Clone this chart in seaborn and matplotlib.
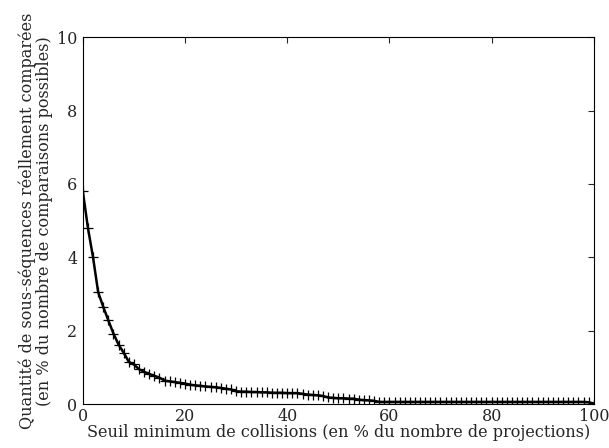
import numpy as np
import pandas as pd
import matplotlib
matplotlib.use('Agg')
import matplotlib.pyplot as plt
import seaborn as sns

#-- Data:

seuil = list(range(0, 101))
quantite = [
    5.80, 4.80, 4.00, 3.05, 2.65, 2.28, 1.92, 1.62, 1.40, 1.15,
    1.08, 0.95, 0.88, 0.82, 0.77, 0.72, 0.64, 0.62, 0.60, 0.58,
    0.56, 0.53, 0.51, 0.50, 0.48, 0.47, 0.46, 0.44, 0.42, 0.40,
    0.35, 0.34, 0.34, 0.33, 0.33, 0.32, 0.32, 0.31, 0.31, 0.31,
    0.30, 0.30, 0.30, 0.28, 0.26, 0.25, 0.24, 0.22, 0.18, 0.17,
    0.16, 0.16, 0.15, 0.15, 0.12, 0.11, 0.10, 0.09, 0.06, 0.06,
    0.06, 0.06, 0.06, 0.06, 0.06, 0.06, 0.06, 0.06, 0.06, 0.06,
    0.06, 0.06, 0.06, 0.06, 0.06, 0.06, 0.06, 0.06, 0.06, 0.06,
    0.06, 0.06, 0.06, 0.06, 0.06, 0.06, 0.06, 0.06, 0.06, 0.06,
    0.06, 0.06, 0.06, 0.06, 0.06, 0.06, 0.06, 0.06, 0.06, 0.05,
    0.01,
]
x_ticks = [0, 20, 40, 60, 80, 100]
y_ticks = [0, 2, 4, 6, 8, 10]

df = pd.DataFrame({'seuil': seuil, 'quantite': quantite})

#-- Style:

sns.set_style('white')
plt.rcParams['font.family'] = ['DejaVu Serif']
plt.rcParams['xtick.direction'] = 'in'
plt.rcParams['ytick.direction'] = 'in'

fig = plt.figure(figsize=(6.09, 4.48), dpi=100)
ax = fig.add_axes([0.136, 0.098, 0.839, 0.819])

sns.lineplot(data=df, x='seuil', y='quantite', color='black', linewidth=1.8,
             marker='+', markersize=7.5, markeredgewidth=0.9,
             markeredgecolor='black', markerfacecolor='black', ax=ax)

ax.set_xlim(0, 100)
ax.set_ylim(0, 10)
ax.set_xticks(x_ticks)
ax.set_yticks(y_ticks)
ax.tick_params(top=True, right=True, labelsize=11.5, length=4, width=0.8)
ax.tick_params(axis='x', pad=3)
ax.tick_params(axis='y', pad=4)
for s in ax.spines.values():
    s.set_color('black')
    s.set_linewidth(0.8)

ax.set_xlabel('Seuil minimum de collisions (en % du nombre de projections)', fontsize=11.6, labelpad=-1)
ax.set_ylabel('Quantité de sous-séquences réellement comparées\n(en % du nombre de comparaisons possibles)',
              fontsize=11.6, labelpad=3, linespacing=1.0)

plt.savefig('out.png', dpi=100)
